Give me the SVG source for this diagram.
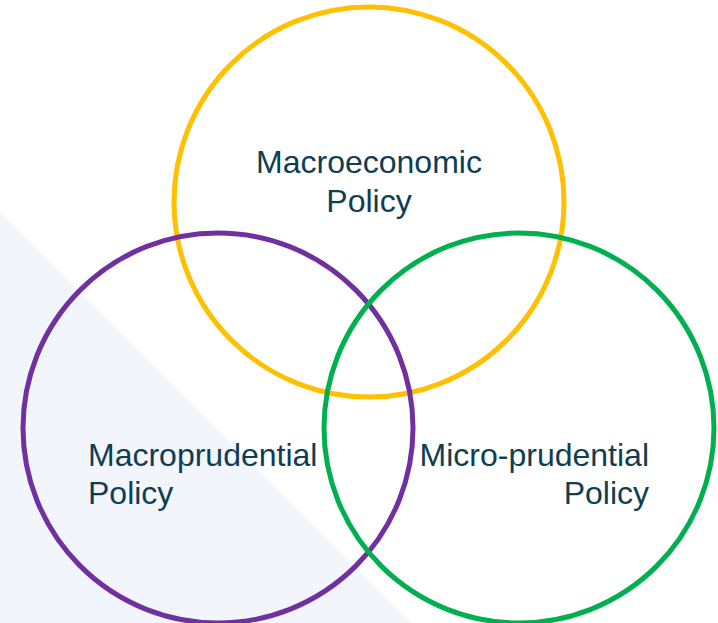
<svg xmlns="http://www.w3.org/2000/svg" width="718" height="623" viewBox="0 0 718 623">
  <style>
    .ring { fill: none; stroke-width: 5; }
    .label { font-family: "Liberation Sans", Arial, sans-serif; font-size: 32px; fill: #0f3d52; }
  </style>
  <rect width="718" height="623" fill="#ffffff"/>
  <!-- pale backdrop wedge -->
  <polygon points="0,212 411,623 0,623" fill="#f2f5fc"/>
  <g id="macroeconomic">
    <circle class="ring" cx="369" cy="202" r="195" stroke="#ffc000"/>
    <text class="label" x="369" y="173" text-anchor="middle">Macroeconomic</text>
    <text class="label" x="369" y="212" text-anchor="middle">Policy</text>
  </g>
  <g id="macroprudential">
    <circle class="ring" cx="218" cy="428" r="195" stroke="#7030a0"/>
    <text class="label" x="88" y="466">Macroprudential</text>
    <text class="label" x="88" y="504">Policy</text>
  </g>
  <g id="microprudential">
    <circle class="ring" cx="519" cy="428" r="195" stroke="#00b050"/>
    <text class="label" x="649" y="466" text-anchor="end">Micro-prudential</text>
    <text class="label" x="649" y="504" text-anchor="end">Policy</text>
  </g>
  <g id="connectors"/>
</svg>
